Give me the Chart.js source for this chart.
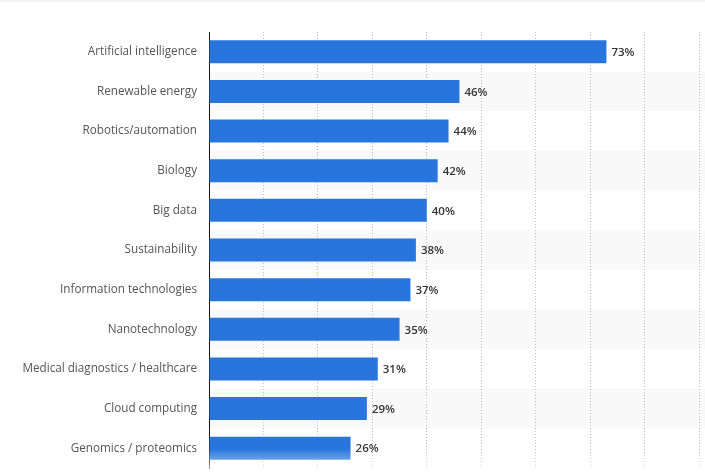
<!DOCTYPE html>
<html>
<head>
<meta charset="utf-8">
<script src="https://cdn.jsdelivr.net/npm/chart.js@4/dist/chart.umd.min.js"></script>
<style>
html,body{margin:0;padding:0;background:#fff;}
#wrap{position:relative;width:705px;height:473px;}
#topband{position:absolute;left:0;top:0;width:705px;height:2px;background:#f2f2f2;}
</style>
</head>
<body>
<div id="wrap"><canvas id="c" width="705" height="473"></canvas><div id="topband"></div></div>
<script>
const categories = ["Artificial intelligence","Renewable energy","Robotics/automation","Biology","Big data","Sustainability","Information technologies","Nanotechnology","Medical diagnostics / healthcare","Cloud computing","Genomics / proteomics"];
const shares = [73,46,44,42,40,38,37,35,31,29,26];
const xMax = 90;
const xStep = 10;

const stripesBG = {
  id:'stripesBG',
  beforeDraw(chart){
    const {ctx, chartArea, scales:{y}} = chart;
    if(!chartArea) return;
    const band = (chartArea.bottom - chartArea.top) / categories.length;
    ctx.save();
    ctx.fillStyle = '#f9f9f9';
    categories.forEach((c,i)=>{
      if(i%2===1){
        const cy = y.getPixelForValue(i);
        ctx.fillRect(chartArea.left+1, cy-band/2, chart.width-chartArea.left, band);
      }
    });
    ctx.restore();
  }
};
const valueLabels = {
  id:'valueLabels',
  afterDatasetsDraw(chart){
    const {ctx} = chart;
    const meta = chart.getDatasetMeta(0);
    ctx.save();
    ctx.font = '600 11.5px "Open Sans"';
    ctx.fillStyle = '#333333';
    ctx.textAlign = 'left';
    ctx.textBaseline = 'middle';
    meta.data.forEach((bar,i)=>{
      ctx.fillText(shares[i] + '%', bar.x + 5, bar.y + 1);
    });
    ctx.restore();
  }
};
const fade = {
  id:'fade',
  afterDraw(chart){
    const {ctx} = chart;
    ctx.save();
    const g = ctx.createLinearGradient(0,449,0,473);
    g.addColorStop(0,'rgba(255,255,255,0)');
    g.addColorStop(1,'rgba(255,255,255,0.7)');
    ctx.fillStyle = g;
    ctx.fillRect(205,449,chart.width-205,24);
    ctx.restore();
  }
};

new Chart(document.getElementById('c'), {
  type:'bar',
  data:{
    labels: categories,
    datasets:[{
      data: shares,
      backgroundColor:'#2876dd',
      borderWidth:0,
      categoryPercentage:0.58,
      barPercentage:1
    }]
  },
  options:{
    indexAxis:'y',
    responsive:false,
    animation:false,
    events:[],
    layout:{padding:{top:32,bottom:5,left:0,right:6}},
    plugins:{legend:{display:false},tooltip:{enabled:false}},
    scales:{
      x:{
        min:0,max:xMax,
        afterFit(s){ s.height = 0; s.paddingLeft = 0; s.paddingRight = 0; },
        ticks:{display:false,stepSize:xStep},
        grid:{color:(c)=> c.tick && c.tick.value===0 ? 'rgba(0,0,0,0)' : '#bdbdbd', lineWidth:1, drawTicks:false},
        border:{display:false, dash:[1,2]}
      },
      y:{
        afterFit(s){ s.width = 209; s.paddingTop = 0; s.paddingBottom = 0; },
        ticks:{color:'#555555',font:{family:'"Open Sans"',size:11.7},padding:12},
        grid:{display:false,drawTicks:false},
        border:{display:true,color:'#111111',width:1}
      }
    }
  },
  plugins:[stripesBG, valueLabels, fade]
});
</script>
</body>
</html>
